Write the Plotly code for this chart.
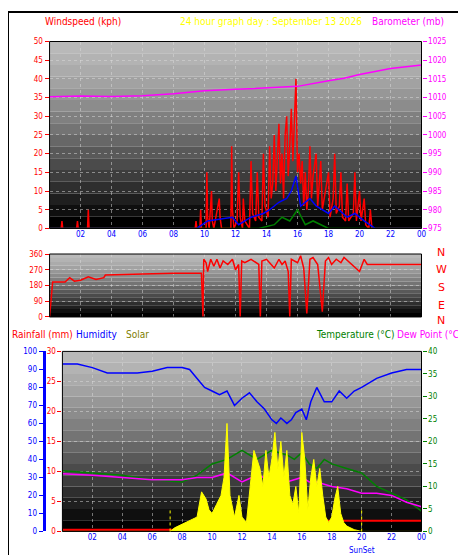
import plotly.graph_objects as go

W, H = 466, 555
hours_ticks = [2,4,6,8,10,12,14,16,18,20,22,24]
tick_text = ["02","04","06","08","10","12","14","16","18","20","22","00"]

# wind gust (kph)
gust_t = [0,0.75,0.8,0.85,1.75,1.8,1.85,2.45,2.5,2.55,9.4,9.45,9.5,9.7,9.75,9.8,10.1,10.15,10.2,10.3,10.45,10.5,10.6,10.95,11.0,11.1,11.7,11.75,11.8,11.9,12.1,12.2,12.3,12.45,12.5,12.6,12.9,13.0,13.1,13.3,13.4,13.5,13.7,13.8,13.9,14.1,14.2,14.3,14.4,14.5,14.6,14.7,14.8,14.9,15.0,15.1,15.2,15.3,15.4,15.5,15.6,15.7,15.8,15.9,16.0,16.1,16.2,16.3,16.4,16.5,16.6,16.7,16.8,16.9,17.0,17.2,17.3,17.4,17.5,17.6,17.8,18.0,18.1,18.3,18.4,18.5,18.7,18.8,18.9,19.1,19.2,19.3,19.6,19.7,19.8,20.0,20.1,20.3,20.4,20.6,20.7,20.8,21.0,24]
gust_v = [0,0,2,0,0,2,0,0,5,0,0,2,0,0,5,0,0,15,3,0,10,2,0,8,3,0,0,22,5,0,2,15,3,0,8,2,0,18,4,2,15,3,2,20,6,3,22,8,12,25,10,18,28,12,20,8,25,30,14,22,32,18,28,40,15,20,12,18,6,15,5,10,22,8,14,20,6,12,18,5,10,15,3,8,20,4,6,15,3,2,12,2,4,15,2,10,2,8,1,0,5,0,0,0]
avg_t = [0,9.5,10.2,11.8,12.2,13.0,13.8,14.2,14.8,15.3,15.6,15.9,16.2,16.8,17.2,18.0,18.4,19.2,19.7,20.3,21.0,24]
avg_v = [0,0,2,3,1,3,4,5,7,8,10,14,6,8,6,4,6,3,4,2,0,0]
lull_t = [0,13.5,14.5,15.0,15.5,16.0,16.5,17.0,18.0,24]
lull_v = [0,0,1,3,2,5,1,2,0,0]

baro_t = [0,2,4,6,8,10,12,14,16,18,19,20,22,24]
baro_v = [1010.2,1010.4,1010.3,1010.5,1011.0,1011.8,1012.2,1012.6,1013.0,1014.5,1015.2,1016.2,1017.8,1018.7]

dir_t = [0,0.2,1.0,1.3,1.6,2.0,2.5,3.0,3.5,3.6,6,8,9.8,9.9,9.95,10.1,10.2,10.4,10.6,10.8,11.0,11.2,11.5,11.8,12.0,12.2,12.3,12.4,12.6,13.0,13.5,13.6,13.7,14.0,14.5,14.8,15.0,15.2,15.4,15.5,15.6,16.0,16.2,16.4,16.6,16.8,17.0,17.3,17.6,17.8,18.0,18.2,18.5,18.8,19.0,19.5,20.0,20.3,20.5,24]
dir_v = [0,200,200,225,205,210,230,215,225,240,245,250,250,0,330,310,260,330,290,330,280,320,300,330,270,300,0,320,310,330,300,0,320,330,280,330,300,320,260,0,330,310,350,280,20,330,340,300,30,320,340,300,330,310,340,300,260,330,300,300]

hum_t = [0,1,2,3,4,5,6,7,8,8.5,9,9.5,10,10.5,11,11.5,12,12.5,13,13.5,14,14.3,14.6,15,15.3,15.6,16,16.3,16.6,17,17.5,18,18.5,19,19.5,20,21,22,23,24]
hum_v = [93,93,91,88,88,88,89,91,91,90,85,80,78,76,78,70,74,77,72,68,62,60,63,60,62,66,68,62,72,80,72,72,78,74,78,80,85,88,90,90]
temp_t = [0,2,4,6,8,9,10,11,12,13,14,14.5,15,15.5,16,16.5,17,17.5,18,19,20,21,22,23,24]
temp_v = [13.5,13,12.5,11.5,11,12.5,15,16,18,16,18,17.5,17,16,17.5,15,14,16,15,14,13,10,8.5,7,4.5]
dew_t = [0,2,4,6,8,9,10,11,12,13,14,14.5,15,16,16.5,17,18,19,20,21,22,23,24]
dew_v = [12.8,12.5,12,11.5,11.5,12,12,13,11,12.5,11.5,12,11,12,11,11,10,9.5,8.5,8.5,8,6.5,5.5]
rain_t = [0,12.2,12.3,15.9,16.0,24]
rain_v = [0.3,0.3,0.9,0.9,1.8,1.8]
sol_t = [0,7.2,7.5,8,8.5,9,9.3,9.6,9.8,10,10.3,10.6,10.8,11,11.2,11.5,11.8,12,12.3,12.6,12.8,13,13.2,13.4,13.6,13.8,14,14.2,14.4,14.6,14.8,15,15.2,15.4,15.6,15.8,16,16.2,16.4,16.6,16.8,17,17.2,17.4,17.6,17.8,18,18.2,18.4,18.6,18.8,19,19.5,20,24]
sol_v = [0,0,2,4,6,8,22,18,12,10,15,20,30,60,20,8,20,8,5,30,45,40,35,25,45,30,40,55,35,50,30,45,20,15,25,10,55,40,12,30,40,25,35,20,8,5,8,18,25,10,5,3,1,0,0]

fig = go.Figure()
L, R = 42/W, 418/W
dom_top = [1-220/H, 1-30/H]
dom_mid = [1-310/H, 1-246/H]
dom_bot = [1-528/H, 1-345/H]
LB = 55/W

fig.add_trace(go.Scatter(x=baro_t, y=baro_v, xaxis="x", yaxis="y2", line=dict(color="#ff00ff", width=1.5), mode="lines"))
fig.add_trace(go.Scatter(x=gust_t, y=gust_v, xaxis="x", yaxis="y", line=dict(color="#ff0000", width=1.5), mode="lines"))
fig.add_trace(go.Scatter(x=avg_t, y=avg_v, xaxis="x", yaxis="y", line=dict(color="#0000ff", width=1.5), mode="lines"))
fig.add_trace(go.Scatter(x=lull_t, y=lull_v, xaxis="x", yaxis="y", line=dict(color="#008000", width=1.5), mode="lines"))
fig.add_trace(go.Scatter(x=dir_t, y=dir_v, xaxis="x2", yaxis="y3", line=dict(color="#ff0000", width=1.5), mode="lines"))
fig.add_trace(go.Scatter(x=sol_t, y=sol_v, xaxis="x3", yaxis="y7", fill="tozeroy", fillcolor="#ffff00", line=dict(color="#ffff00", width=1), mode="lines"))
fig.add_trace(go.Scatter(x=temp_t, y=temp_v, xaxis="x3", yaxis="y6", line=dict(color="#008000", width=1.5), mode="lines"))
fig.add_trace(go.Scatter(x=dew_t, y=dew_v, xaxis="x3", yaxis="y6", line=dict(color="#ff00ff", width=1.5), mode="lines"))
fig.add_trace(go.Scatter(x=hum_t, y=hum_v, xaxis="x3", yaxis="y5", line=dict(color="#0000ff", width=1.5), mode="lines"))
fig.add_trace(go.Scatter(x=rain_t, y=rain_v, xaxis="x3", yaxis="y4", line=dict(color="#ff0000", width=2), mode="lines"))

tf = dict(family="DejaVu Sans Condensed, DejaVu Sans", size=8)
grid = dict(showgrid=True, gridcolor="rgba(220,220,220,0.5)", griddash="dot")
xcommon = dict(range=[0,24], tickvals=hours_ticks, ticktext=tick_text, tickfont=dict(tf, color="#0000ff"),
               zeroline=False, ticks="", showline=False, **grid)
ycommon = dict(zeroline=False, ticks="outside", ticklen=4)
fig.update_layout(
    width=W, height=H, margin=dict(l=0,r=0,t=0,b=0), paper_bgcolor="white", plot_bgcolor="rgba(0,0,0,0)",
    showlegend=False,
    xaxis=dict(xcommon, domain=[L,R], anchor="y"),
    xaxis2=dict(xcommon, domain=[L,R], anchor="y3", showticklabels=False),
    xaxis3=dict(xcommon, domain=[LB,R], anchor="y4"),
    yaxis=dict(ycommon, domain=dom_top, range=[0,50], dtick=5, tickfont=dict(tf, color="#ff0000"), tickcolor="#ff0000", **grid),
    yaxis2=dict(ycommon, domain=dom_top, overlaying="y", side="right", range=[975,1025], dtick=5, tickfont=dict(tf, color="#ff00ff"), showgrid=False, tickcolor="#ff00ff"),
    yaxis3=dict(ycommon, domain=dom_mid, anchor="x2", range=[0,360], tickvals=[0,90,180,270,360], tickfont=dict(tf, color="#ff0000"), tickcolor="#ff0000", **grid),
    yaxis4=dict(ycommon, domain=dom_bot, anchor="x3", range=[0,30], dtick=5, tickfont=dict(tf, color="#ff0000"), tickcolor="#ff0000", **grid),
    yaxis5=dict(ycommon, domain=dom_bot, overlaying="y4", anchor="free", position=36/W, range=[0,100], dtick=10, tickfont=dict(tf, color="#0000ff"), showgrid=False, showline=True, linecolor="#0000ff", linewidth=3, tickcolor="#0000ff"),
    yaxis6=dict(ycommon, domain=dom_bot, overlaying="y4", side="right", range=[0,40], dtick=5, tickfont=dict(tf, color="#008000"), showgrid=False, tickcolor="#008000"),
    yaxis7=dict(domain=dom_bot, overlaying="y4", range=[0,100], visible=False),
)

shapes = []
def bands(xref, yref, n=16):
    for i in range(n):
        g = int(185 - 185*(i/(n-1))**1.3)
        shapes.append(dict(type="rect", xref=xref+" domain", yref=yref+" domain", x0=0, x1=1,
                           y0=1-(i+1)/n, y1=1-i/n, fillcolor=f"rgb({g},{g},{g})", line_width=0, layer="below"))
bands("x","y"); bands("x2","y3"); bands("x3","y4")
for xr, yr in [("x","y"),("x2","y3"),("x3","y4")]:
    shapes.append(dict(type="rect", xref=xr+" domain", yref=yr+" domain", x0=0,x1=1,y0=0,y1=1, line=dict(color="black", width=1)))
for sx in [7.2, 20.0]:
    shapes.append(dict(type="line", xref="x3", yref="y4 domain", x0=sx, x1=sx, y0=0, y1=0.13, line=dict(color="#ffff00", width=1, dash="dot")))
shapes.append(dict(type="rect", xref="paper", yref="paper", x0=0, x1=1, y0=0, y1=1, line=dict(color="black", width=2)))
fig.update_layout(shapes=shapes)

hf = dict(family="DejaVu Sans Condensed, DejaVu Sans", size=10)
ann = [
    dict(text="Windspeed (kph)", x=35/W, y=1-2/H, xanchor="left", yanchor="top", font=dict(hf, color="#ff0000")),
    dict(text="24 hour graph day : September 13 2026", x=172/W, y=1-2/H, xanchor="left", yanchor="top", font=dict(hf, color="#ffff00")),
    dict(text="Barometer (mb)", x=443/W, y=1-2/H, xanchor="right", yanchor="top", font=dict(hf, color="#ff00ff")),
    dict(text="Rainfall (mm)", x=2/W, y=1-320/H, xanchor="left", yanchor="top", font=dict(hf, color="#ff0000")),
    dict(text="Humidity", x=67/W, y=1-320/H, xanchor="left", yanchor="top", font=dict(hf, color="#0000ff")),
    dict(text="Solar", x=117/W, y=1-320/H, xanchor="left", yanchor="top", font=dict(hf, color="#808000")),
    dict(text="Temperature (°C)", x=392/W, y=1-320/H, xanchor="right", yanchor="top", font=dict(hf, color="#008000")),
    dict(text="Dew Point (°C)", x=462/W, y=1-320/H, xanchor="right", yanchor="top", font=dict(hf, color="#ff00ff")),
    dict(text="SunSet", x=20.0, xref="x3", y=1-547/H, yanchor="middle", font=dict(tf, color="#0000ff"), showarrow=False),
]
for lab, yy in zip(["N","W","S","E","N"], [244,262,280,298,314]):
    ann.append(dict(text=lab, x=438/W, y=1-yy/H, xanchor="center", yanchor="middle", font=dict(family="DejaVu Sans", size=11, color="#ff0000")))
for a in ann:
    a.setdefault("xref","paper"); a.setdefault("yref","paper"); a.setdefault("showarrow", False)
fig.update_layout(annotations=ann)
fig.write_html("out.html")
